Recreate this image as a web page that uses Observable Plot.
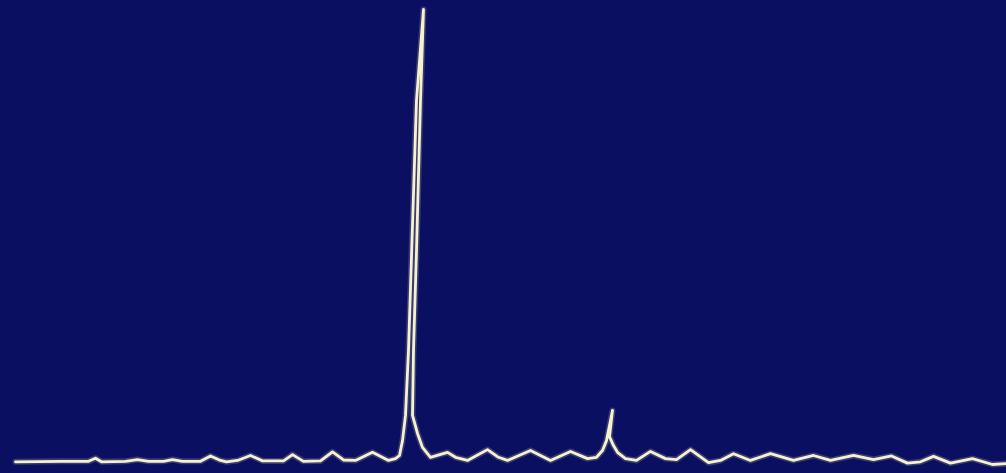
<!DOCTYPE html>
<html>
<head>
<meta charset="utf-8">
<script src="https://cdn.jsdelivr.net/npm/d3@7"></script>
<script src="https://cdn.jsdelivr.net/npm/@observablehq/plot@0.6"></script>
<style>
  html, body { margin: 0; padding: 0; background: #0a0f62; overflow: hidden; }
  #chart svg { display: block; }
</style>
</head>
<body>
<div id="chart"></div>
<script>
// Recorder trace: channel position and relative intensity (tallest peak = 100).
// The pen goes up and back down each peak, so points are kept in drawing order.
const channel = [
  15, 60, 88, 95, 101, 125, 137, 148, 163, 172, 182, 200, 210, 220, 226, 237,
  250, 262, 283, 292, 303, 320, 332, 343, 355, 372, 388, 395,
  399, 402, 405, 408, 416, 423,
  420, 416, 413, 412, 417, 422, 430, 447, 455, 467, 487, 498, 507, 530, 550, 570, 587,
  596, 602, 606, 612, 609, 613, 617, 625,
  636, 650, 665, 676, 690, 698, 708, 720, 733, 750, 770, 793, 813, 830, 853, 873,
  891, 907, 920, 933, 950, 972, 992, 1006
];
const intensity = [
  -0.4, -0.3, -0.3, 0.4, -0.4, -0.3, 0.1, -0.3, -0.3, 0.1, -0.3, -0.3, 0.9, -0.1, -0.4, -0.1,
  1.0, -0.2, -0.2, 1.2, -0.3, -0.2, 1.8, 0.0, -0.1, 1.7, -0.1, 0.3,
  1.0, 4.3, 9.9, 24.3, 79.8, 100,
  79.8, 46.5, 24.3, 9.9, 5.9, 2.8, 0.6, 1.7, 0.6, -0.1, 2.3, 0.6, -0.1, 2.1, -0.1, 1.9, 0.3,
  0.6, 2.1, 4.3, 11.0, 5.2, 3.2, 1.7, 0.3,
  -0.1, 1.9, 0.3, 0.1, 2.3, 1.0, -0.6, -0.1, 1.4, -0.1, 1.4, -0.1, 1.0, -0.1, 1.0, 0.1,
  0.9, -0.7, -0.4, 0.8, -0.7, 0.3, -1.0, -0.8
];

const trace = channel.map((c, i) => ({channel: c, intensity: intensity[i]}));

const plot = Plot.plot({
  width: 1006,
  height: 473,
  margin: 0,
  style: {background: "#0a0f62"},
  x: {domain: [0, 1006], axis: null},
  y: {domain: [-3, 102], axis: null},
  marks: [
    // soft halo around the pen trace
    Plot.line(trace, {x: "channel", y: "intensity", stroke: "#e6e0aa", strokeWidth: 6,
      strokeOpacity: 0.22, strokeLinejoin: "round", strokeLinecap: "round"}),
    // the trace itself
    Plot.line(trace, {x: "channel", y: "intensity", stroke: "#f6f2d0", strokeWidth: 2.8,
      strokeLinejoin: "round", strokeLinecap: "round"})
  ]
});

document.getElementById("chart").appendChild(plot);
</script>
</body>
</html>
